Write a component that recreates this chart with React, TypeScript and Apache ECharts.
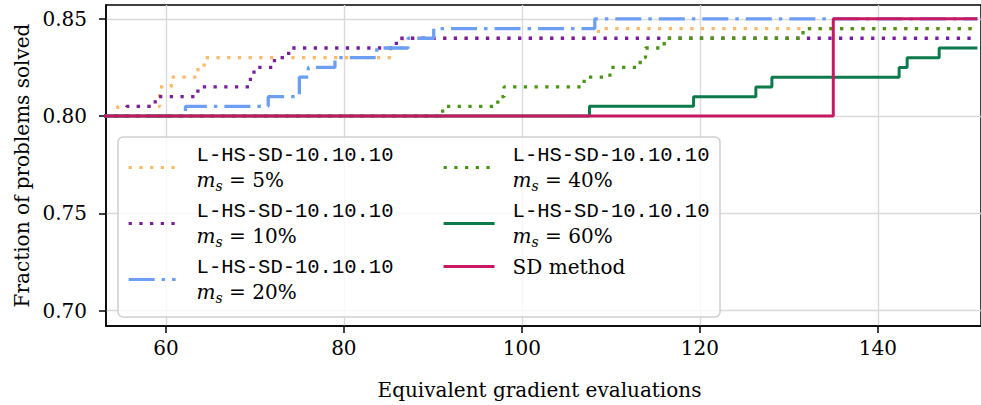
import React, { useEffect, useRef } from "react";
import * as echarts from "echarts";

// ---------- data ----------
const xTicks = [60, 80, 100, 120, 140];
const yTicks = [0.7, 0.75, 0.8, 0.85];

const seriesNames = [
  "L-HS-SD-10.10.10 (ms = 5%)",
  "L-HS-SD-10.10.10 (ms = 10%)",
  "L-HS-SD-10.10.10 (ms = 20%)",
  "L-HS-SD-10.10.10 (ms = 40%)",
  "L-HS-SD-10.10.10 (ms = 60%)",
  "SD method",
];
const msPercents = [5, 10, 20, 40, 60];

// step points: [evaluations, fraction solved] (value holds from x until next x)
const ms5: [number, number][] = [
  [53, 0.8], [54.6, 0.805], [59.3, 0.815], [60.6, 0.82], [63.6, 0.825], [64.3, 0.83],
  [85.3, 0.835], [86.6, 0.84], [108.6, 0.845], [151.2, 0.845],
];
const ms10: [number, number][] = [
  [53, 0.8], [55.6, 0.805], [58.8, 0.81], [63.6, 0.815], [69.5, 0.82], [69.9, 0.825],
  [72.2, 0.83], [73.8, 0.835], [85.9, 0.84], [151.2, 0.84],
];
const ms20: [number, number][] = [
  [53, 0.8], [62.2, 0.805], [71.5, 0.81], [75.0, 0.82], [76.0, 0.825], [79.0, 0.83],
  [83.7, 0.835], [87.2, 0.84], [90.1, 0.845], [108.2, 0.85], [151.2, 0.85],
];
const ms40: [number, number][] = [
  [53, 0.8], [91.1, 0.805], [97.3, 0.81], [98.0, 0.815], [107.0, 0.82], [109.9, 0.825],
  [113.3, 0.83], [113.9, 0.835], [116.0, 0.84], [131.6, 0.845], [151.2, 0.845],
];
const ms60: [number, number][] = [
  [53, 0.8], [107.6, 0.805], [119.3, 0.81], [126.3, 0.815], [128.1, 0.82], [142.4, 0.825],
  [143.3, 0.83], [146.9, 0.835], [151.2, 0.835],
];
const sdMethod: [number, number][] = [[53, 0.8], [135.0, 0.85], [151.2, 0.85]];

const seriesData = [ms5, ms10, ms20, ms40, ms60, sdMethod];

// ---------- styles ----------
const colors = ["#ffb96b", "#7a1ea0", "#6c9ff4", "#4a9616", "#0d7a4c", "#c81862"];
const dot = [3.3, 7.4];
const dashDot = [26, 7, 3.5, 7];
const lineTypes: any[] = [dot, dot, dashDot, dot, "solid", "solid"];
const lineWidths = [3.3, 3.3, 3.3, 3.3, 3, 3];

const SERIF = "'DejaVu Serif', serif";
const MONO = "'Liberation Mono', 'DejaVu Sans Mono', monospace";

function legendRich(spacer: number) {
  return {
    sp: { width: spacer, lineHeight: 25, fontSize: 20 },
    tt: { fontFamily: MONO, fontSize: 20.5, lineHeight: 25, color: "#000" },
    mi: { fontFamily: SERIF, fontStyle: "italic", fontSize: 20, lineHeight: 25, color: "#000" },
    sub: {
      fontFamily: SERIF,
      fontStyle: "italic",
      fontSize: 14,
      lineHeight: 18,
      verticalAlign: "bottom",
      color: "#000",
    },
    rm: { fontFamily: SERIF, fontSize: 20, lineHeight: 25, color: "#000" },
  };
}

function legendFormatter(name: string) {
  const i = seriesNames.indexOf(name);
  if (i === 5) return "{sp| }{rm|SD method}";
  return `{sp| }{tt|L-HS-SD-10.10.10}\n{sp| }{mi|m}{sub|s}{rm| = ${msPercents[i]}%}`;
}

export default function App() {
  const ref = useRef<HTMLDivElement>(null);

  useEffect(() => {
    if (!ref.current) return;
    const chart = echarts.init(ref.current, null, { renderer: "svg" });

    const axisCommon = {
      type: "value" as const,
      axisLine: { show: true, onZero: false, lineStyle: { color: "#000", width: 1.5 } },
      splitLine: { show: true, lineStyle: { color: "#dadada", width: 1.4 } },
    };

    const legendCommon = {
      orient: "vertical" as const,
      top: 144.5,
      padding: 0,
      itemHeight: 14,
      itemGap: 8,
      selectedMode: false,
      formatter: legendFormatter,
      itemStyle: { opacity: 0 },
      lineStyle: { width: 3.2 },
      textStyle: { color: "#000", fontFamily: SERIF, fontSize: 20 },
    };

    chart.setOption({
      animation: false,
      backgroundColor: "#fff",
      grid: {
        left: 106,
        top: 5,
        width: 876,
        height: 325.5,
        show: true,
        borderColor: "#000",
        borderWidth: 1.5,
        backgroundColor: "transparent",
      },
      xAxis: {
        ...axisCommon,
        min: 53.27,
        max: 151.6,
        axisTick: {
          show: true,
          inside: false,
          length: 7,
          customValues: xTicks,
          lineStyle: { color: "#000", width: 1.5 },
        },
        axisLabel: {
          customValues: xTicks,
          formatter: (v: number) => String(v),
          color: "#000",
          fontFamily: SERIF,
          fontSize: 20,
          margin: 12,
        },
        name: "Equivalent gradient evaluations",
        nameLocation: "middle",
        nameGap: 54,
        nameTextStyle: { color: "#000", fontFamily: SERIF, fontSize: 20, padding: [0, 8, 0, 0] },
      },
      yAxis: {
        ...axisCommon,
        min: 0.6921,
        max: 0.8571,
        axisTick: {
          show: true,
          inside: false,
          length: 7,
          customValues: yTicks,
          lineStyle: { color: "#000", width: 1.5 },
        },
        axisLabel: {
          customValues: yTicks,
          formatter: (v: number) => v.toFixed(2),
          color: "#000",
          fontFamily: SERIF,
          fontSize: 20,
          margin: 19,
        },
        name: "Fraction of problems solved",
        nameLocation: "middle",
        nameGap: 74,
        nameTextStyle: { color: "#000", fontFamily: SERIF, fontSize: 20 },
      },
      graphic: [
        {
          type: "rect",
          z: 3,
          silent: true,
          shape: { x: 118, y: 137, width: 602, height: 180, r: 5 },
          style: { fill: "rgba(255,255,255,0.8)", stroke: "#cfcfcf", lineWidth: 1.5 },
        },
      ],
      legend: [
        {
          ...legendCommon,
          left: 127,
          itemWidth: 47,
          data: seriesNames.slice(0, 3),
          textStyle: { ...legendCommon.textStyle, rich: legendRich(16) },
        },
        {
          ...legendCommon,
          left: 442,
          itemWidth: 51,
          data: seriesNames.slice(3, 6),
          textStyle: { ...legendCommon.textStyle, rich: legendRich(13) },
        },
      ],
      series: seriesData.map((d, i) => ({
        type: "line",
        name: seriesNames[i],
        data: d,
        step: "end",
        symbol: "none",
        showSymbol: false,
        clip: true,
        silent: true,
        z: 2 + i * 0.01,
        emphasis: { disabled: true },
        itemStyle: { color: colors[i] },
        lineStyle: { color: colors[i], width: lineWidths[i], type: lineTypes[i], cap: "butt" },
      })),
    });

    return () => chart.dispose();
  }, []);

  return (
    <div
      ref={ref}
      style={{ position: "fixed", left: 0, top: 0, width: 981, height: 405 }}
    />
  );
}
